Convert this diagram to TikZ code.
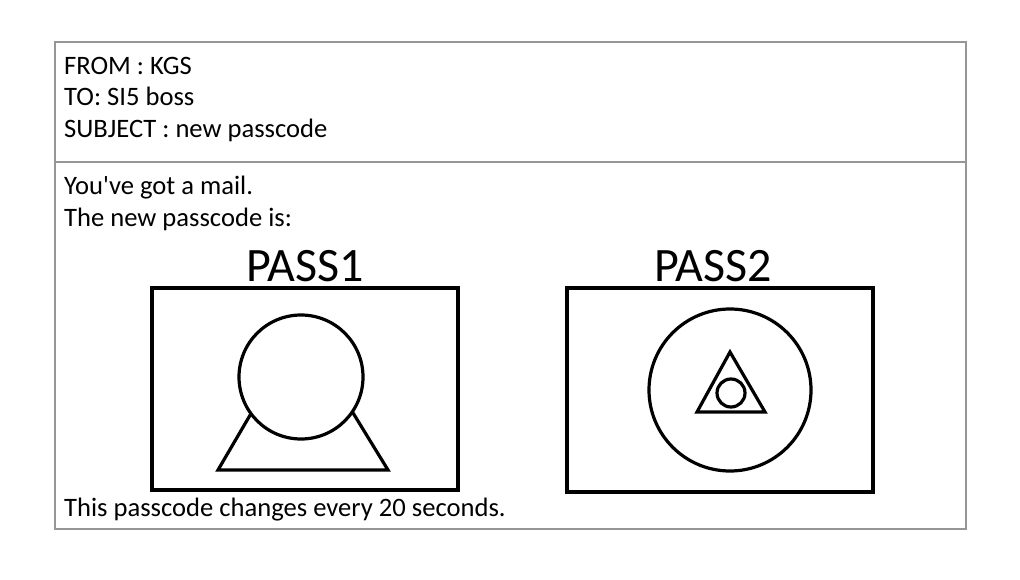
\documentclass[tikz,border=0pt]{standalone}
\usepackage{fontspec}
\setmainfont{Carlito}[Ligatures=TeXOff]
\begin{document}
\begin{tikzpicture}[x=1pt,y=-1pt,
  frame/.style={draw={rgb,255:red,150;green,150;blue,150},line width=1.2pt},
  txt/.style={anchor=base west,inner sep=0pt,font=\fontsize{26.6}{32}\selectfont},
  big/.style={anchor=base,inner sep=0pt,font=\fontsize{48}{56}\selectfont},
  boxline/.style={line width=4.2pt},
  glyph/.style={line width=3.2pt}]
\useasboundingbox[fill=white] (0,0) rectangle (1020,580);
% mail frame
\draw[frame] (55,42) rectangle (966,529);
\draw[frame] (55,162) -- (966,162);
% header
\node[txt] (from) at (64,75) {FROM : KGS};
\node[txt] (to) at (64,106) {TO: SI5 boss};
\node[txt] (subj) at (64,138) {SUBJECT : new passcode};
% body
\node[txt] (got) at (64,195) {You've got a mail.};
\node[txt] (new) at (64,226) {The new passcode is:};
\node[txt] (chg) at (64,516) {This passcode changes every 20 seconds.};
% labels
\node[big] (p1) at (305,281) {PASS1};
\node[big] (p2) at (713,281) {PASS2};
% boxes
\draw[boxline] (152,288) rectangle (458,490);
\draw[boxline] (567,288) rectangle (873,492);
% PASS1 glyph
\draw[glyph,line join=miter] (301,328) -- (218,470) -- (388,470) -- cycle;
\draw[glyph,fill=white] (301,377) circle[radius=62];
% PASS2 glyph
\draw[glyph] (730,390) circle[radius=81];
\draw[glyph,line join=miter] (730,352) -- (697,412) -- (765,412) -- cycle;
\draw[glyph] (731,393) circle[radius=14];
\end{tikzpicture}
\end{document}
